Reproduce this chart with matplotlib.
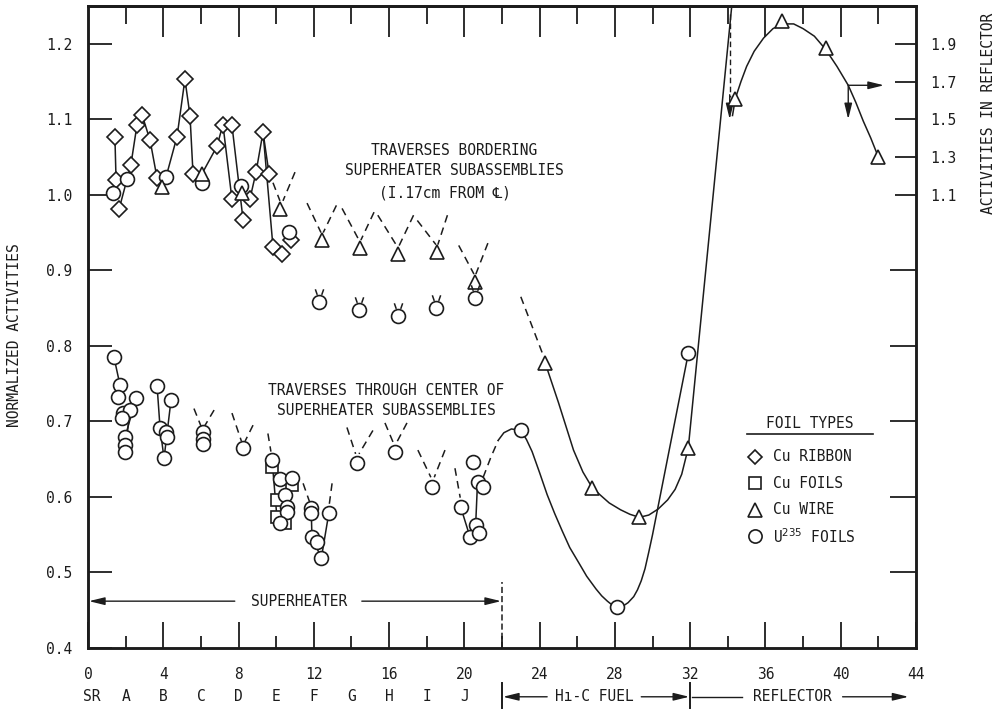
import numpy as np
import matplotlib
matplotlib.use('Agg')
import matplotlib.pyplot as plt
from matplotlib.path import Path

INK = '#1c1c1c'
plt.rcParams['font.family'] = ['DejaVu Sans Mono', 'DejaVu Sans']
plt.rcParams['font.size'] = 10.5
plt.rcParams['text.color'] = INK

# ── data (left axis = normalized activity) ──
# bordering traverses (upper group)
ribbon_x = [1.43, 1.49, 1.65, 2.28, 2.60, 2.87, 3.30, 3.67, 4.73, 5.15, 5.42, 5.58,
            6.85, 7.17, 7.65, 7.65, 8.24, 8.60, 8.93, 9.30, 9.62, 9.83, 10.3, 10.8]
ribbon_y = [1.076, 1.020, 0.981, 1.040, 1.092, 1.106, 1.072, 1.022, 1.077, 1.153, 1.105, 1.028,
            1.064, 1.093, 1.092, 0.994, 0.967, 0.994, 1.030, 1.083, 1.028, 0.931, 0.922, 0.940]
wire_x = [3.93, 6.06, 8.18, 10.2, 12.43, 14.45, 16.47, 18.54, 20.56, 24.3, 26.8, 29.3, 31.9]
wire_y = [1.010, 1.028, 1.002, 0.981, 0.940, 0.930, 0.922, 0.924, 0.884, 0.777, 0.612, 0.573, 0.665]
u235_up_x = [1.33, 2.07, 4.14, 6.06, 8.13, 10.7]
u235_up_y = [1.002, 1.021, 1.023, 1.015, 1.012, 0.951]
u235_horn_x = [12.27, 14.40, 16.47, 18.50, 20.56]
u235_horn_y = [0.858, 0.848, 0.840, 0.850, 0.864]

# center traverses (lower group) + fuel region
u235_x = [1.38, 1.70, 1.59, 2.55, 1.86, 2.23, 1.80, 1.97, 1.97, 1.97,
          3.67, 4.41, 3.83, 4.14, 4.20, 4.04,
          6.10, 6.10, 6.10, 8.24,
          9.78, 10.2, 10.84, 10.47, 10.6, 10.6, 10.2,
          11.86, 11.86, 12.8, 11.9, 12.15, 12.4,
          14.3, 16.3, 18.3,
          19.8, 20.46, 20.7, 21.0, 20.6, 20.3, 20.8,
          23.0, 28.1, 31.9]
u235_y = [0.785, 0.748, 0.732, 0.731, 0.711, 0.715, 0.704, 0.679, 0.669, 0.659,
          0.747, 0.728, 0.691, 0.686, 0.679, 0.651,
          0.686, 0.677, 0.670, 0.665,
          0.649, 0.624, 0.625, 0.602, 0.587, 0.580, 0.565,
          0.585, 0.579, 0.579, 0.547, 0.540, 0.519,
          0.645, 0.660, 0.613,
          0.587, 0.646, 0.620, 0.613, 0.563, 0.547, 0.552,
          0.688, 0.454, 0.790]
foil_x = [9.78, 10.84, 10.04, 10.04, 10.47]
foil_y = [0.640, 0.616, 0.596, 0.573, 0.565]

# solid connecting lines within subassemblies
links = [
    [(1.43, 1.076), (1.49, 1.020)],
    [(1.65, 0.981), (2.28, 1.040), (2.60, 1.092), (2.87, 1.106), (3.30, 1.072), (3.67, 1.022), (3.93, 1.010)],
    [(4.14, 1.023), (4.73, 1.077), (5.15, 1.153), (5.42, 1.105), (5.58, 1.028)],
    [(6.06, 1.028), (6.85, 1.064), (7.17, 1.093), (7.65, 0.994)],
    [(7.65, 1.092), (8.24, 0.967)],
    [(8.60, 0.994), (8.93, 1.030), (9.30, 1.083), (9.62, 1.028)],
    [(9.30, 1.083), (9.83, 0.931)],
    [(1.38, 0.785), (1.70, 0.748)],
    [(2.55, 0.731), (1.97, 0.679)],
    [(2.23, 0.715), (1.97, 0.659)],
    [(3.67, 0.747), (3.83, 0.691), (4.04, 0.651)],
    [(4.41, 0.728), (4.04, 0.651)],
    [(9.78, 0.649), (10.04, 0.573)],
    [(10.84, 0.625), (10.47, 0.565)],
    [(11.86, 0.585), (11.9, 0.547), (12.4, 0.519)],
    [(12.8, 0.579), (12.4, 0.519)],
    [(19.8, 0.587), (20.3, 0.547)],
    [(20.7, 0.620), (20.6, 0.563)],
]

# dashed "V" guide strokes
dashes = [
    [(9.83, 1.016), (10.20, 0.992)], [(11.0, 1.030), (10.36, 0.992)],
    [(11.64, 0.989), (12.38, 0.950)], [(13.2, 0.986), (12.50, 0.950)],
    [(13.5, 0.982), (14.40, 0.940)], [(15.2, 0.977), (14.50, 0.940)],
    [(15.4, 0.973), (16.42, 0.932)], [(17.3, 0.973), (16.52, 0.932)],
    [(17.5, 0.966), (18.49, 0.934)], [(19.1, 0.973), (18.59, 0.934)],
    [(19.7, 0.933), (20.51, 0.895)], [(21.25, 0.936), (20.61, 0.895)],
    [(5.63, 0.717), (6.00, 0.694)], [(6.70, 0.715), (6.20, 0.694)],
    [(7.65, 0.711), (8.15, 0.674)], [(8.77, 0.695), (8.35, 0.674)],
    [(9.56, 0.684), (9.72, 0.660)],
    [(11.43, 0.618), (11.78, 0.593)], [(12.97, 0.618), (12.82, 0.590)],
    [(13.76, 0.692), (14.22, 0.657)], [(15.14, 0.688), (14.40, 0.657)],
    [(15.78, 0.698), (16.22, 0.672)], [(16.95, 0.698), (16.40, 0.672)],
    [(17.53, 0.662), (18.22, 0.626)], [(18.97, 0.662), (18.40, 0.626)],
    [(19.5, 0.638), (19.78, 0.599)],
]

# faired curves through the fuel region
wire_dash_x = [23.0, 24.15]
wire_dash_y = [0.865, 0.790]
wire_curve_x = [24.3, 25.0, 25.8, 26.3, 26.8, 27.2, 27.7, 28.3, 28.8, 29.3, 29.8, 30.3,
                30.8, 31.2, 31.55, 31.9, 34.21]
wire_curve_y = [0.777, 0.725, 0.662, 0.633, 0.612, 0.603, 0.592, 0.583, 0.577, 0.573, 0.576,
                0.584, 0.596, 0.610, 0.630, 0.665, 1.25]
u235_dash_x = [21.0, 21.4, 21.8]
u235_dash_y = [0.626, 0.652, 0.675]
u235_curve_x = [21.8, 22.1, 22.5, 23.0, 23.3, 23.6, 24.0, 24.4, 24.8, 25.2, 25.6, 26.1,
                26.5, 27.0, 27.3, 27.6, 27.85, 28.1, 28.4, 28.7, 29.0, 29.2, 29.4,
                29.6, 29.8, 30.0, 31.9]
u235_curve_y = [0.675, 0.685, 0.690, 0.688, 0.676, 0.660, 0.632, 0.603, 0.578, 0.555, 0.533, 0.512,
                0.495, 0.478, 0.469, 0.462, 0.457, 0.454, 0.455, 0.460, 0.468, 0.477, 0.489,
                0.505, 0.527, 0.550, 0.790]

# reflector (right axis)
refl_x = [34.4, 36.9, 39.2, 42.0]
refl_y = [1.61, 2.02, 1.88, 1.30]
refl_curve_x = [34.25, 34.4, 34.7, 35.0, 35.4, 35.9, 36.4, 36.9, 37.5, 38.0, 38.6, 39.2,
                39.8, 40.4, 40.8, 41.2, 41.6, 42.0]
refl_curve_y = [1.52, 1.61, 1.70, 1.78, 1.86, 1.93, 1.98, 2.005, 2.005, 1.98, 1.94, 1.87,
                1.78, 1.68, 1.59, 1.49, 1.40, 1.30]

# right scale: right = R_GAIN * left + R_OFF
R_GAIN, R_OFF = 4.0, -2.9

x_ticks = list(range(0, 45, 4))
y_ticks = [0.4, 0.5, 0.6, 0.7, 0.8, 0.9, 1.0, 1.1, 1.2]
r_ticks = [1.1, 1.3, 1.5, 1.7, 1.9]
sub_labels = ['SR', 'A', 'B', 'C', 'D', 'E', 'F', 'G', 'H', 'I', 'J']
sub_pos = [0.2, 2, 4, 6, 8, 10, 12, 14, 16, 18, 20]

legend_labels = ['Cu RIBBON', 'Cu FOILS', 'Cu WIRE', r'U$^{235}$ FOILS']
legend_markers = ['D', 's', '^', 'o']
legend_sizes = [8, 9, 10, 10]

# ── figure ──
fig = plt.figure(figsize=(9.99, 7.12), dpi=100)
ax = fig.add_axes([0.0881, 0.0899, 0.8288, 0.9017])
ax.set_xlim(0, 44)
ax.set_ylim(0.4, 1.25)

LW = 1.1
mk = dict(linestyle='none', mfc='white', mec=INK, mew=1.2, zorder=4)

for seg in links:
    xs, ys = zip(*seg)
    ax.plot(xs, ys, color=INK, lw=LW, zorder=2)
for seg in dashes:
    xs, ys = zip(*seg)
    ax.plot(xs, ys, color=INK, lw=LW, ls=(0, (5, 3.5)), zorder=2)

ax.plot(wire_dash_x, wire_dash_y, color=INK, lw=LW, ls=(0, (5, 3.5)), zorder=2)
ax.plot(wire_curve_x, wire_curve_y, color=INK, lw=LW, zorder=2)
ax.plot(u235_dash_x, u235_dash_y, color=INK, lw=LW, ls=(0, (5, 3.5)), zorder=2)
ax.plot(u235_curve_x, u235_curve_y, color=INK, lw=LW, zorder=2)

ax.plot(ribbon_x, ribbon_y, marker='D', ms=8, **mk)
ax.plot(foil_x, foil_y, marker='s', ms=9, **mk)
ax.plot(u235_x, u235_y, marker='o', ms=10, **mk)
ax.plot(u235_up_x, u235_up_y, marker='o', ms=10, **mk)
ax.plot(wire_x, wire_y, marker='^', ms=10, **mk)

# little horns sitting on the circles of the bordering row
horn = Path([(-0.30, 0.95), (-0.16, 0.55), (0.30, 0.95), (0.16, 0.55)],
            [Path.MOVETO, Path.LINETO, Path.MOVETO, Path.LINETO])
ax.plot(u235_horn_x, u235_horn_y, marker='o', ms=10, **mk)
ax.plot(u235_horn_x, u235_horn_y, linestyle='none', marker=horn, ms=19,
        mec=INK, mew=1.1, zorder=4)

# superheater span
ax.plot([22, 22], [0.4, 0.487], color=INK, lw=1.1, ls=(0, (4, 2)))
ahead = '-|>,head_length=0.9,head_width=0.22'
for x0, x1 in [(7.8, 0.05), (14.55, 21.95)]:
    ax.annotate('', xy=(x1, 0.462), xytext=(x0, 0.462),
                arrowprops=dict(arrowstyle=ahead, color=INK, lw=1.0, shrinkA=0, shrinkB=0))
ax.text(11.2, 0.462, 'SUPERHEATER', ha='center', va='center')

# annotations
ax.text(19.45, 1.059, 'TRAVERSES BORDERING', ha='center', va='center')
ax.text(19.45, 1.032, 'SUPERHEATER SUBASSEMBLIES', ha='center', va='center')
ax.text(18.97, 1.003, '(I.17cm FROM \u2104)', ha='center', va='center')
ax.text(15.83, 0.741, 'TRAVERSES THROUGH CENTER OF', ha='center', va='center')
ax.text(15.83, 0.715, 'SUPERHEATER SUBASSEMBLIES', ha='center', va='center')

# axes styling
for sp in ax.spines.values():
    sp.set_linewidth(1.8)
    sp.set_color(INK)
ax.set_xticks(x_ticks)
ax.set_xticklabels([str(v) for v in x_ticks])
ax.set_xticks(list(range(2, 44, 4)), minor=True)
ax.tick_params(axis='x', which='major', direction='in', length=18.5, width=1.3,
               pad=14, top=False, colors=INK)
ax.tick_params(axis='x', which='minor', direction='in', length=8.5, width=1.3, top=False,
               colors=INK)
ax.set_yticks(y_ticks)
ax.set_yticklabels(['%.1f' % v for v in y_ticks])
ax.tick_params(axis='y', direction='in', length=17, width=1.3, pad=11, right=False,
               colors=INK)

top = ax.secondary_xaxis('top')
top.set_xticks(list(range(4, 44, 4)))
top.set_xticks(list(range(2, 44, 4)), minor=True)
top.tick_params(axis='x', which='major', direction='in', length=22, width=1.3,
                labeltop=False, colors=INK)
top.tick_params(axis='x', which='minor', direction='in', length=13, width=1.3,
                labeltop=False, colors=INK)
top.spines['top'].set_linewidth(1.8)

ax2 = ax.twinx()
ax2.set_ylim(R_GAIN * 0.4 + R_OFF, R_GAIN * 1.25 + R_OFF)
ax2.set_yticks(r_ticks)
ax2.set_yticklabels(['%.1f' % v for v in r_ticks])
ax2.set_yticks([R_GAIN * v + R_OFF for v in [0.5, 0.6, 0.7, 0.8, 0.9]], minor=True)
ax2.tick_params(axis='y', which='major', direction='in', length=15, width=1.3, pad=10,
                colors=INK)
ax2.tick_params(axis='y', which='minor', direction='in', length=18.5, width=1.3,
                colors=INK)
for sp in ax2.spines.values():
    sp.set_linewidth(1.8)
    sp.set_color(INK)

ax2.plot(refl_curve_x, refl_curve_y, color=INK, lw=LW, zorder=2)
ax2.plot(refl_x, refl_y, marker='^', ms=10, **mk)
ax2.plot([34.1, 34.1], [2.06, 1.62], color=INK, lw=1.0, ls=(0, (4, 2.5)))
ax2.annotate('', xy=(34.1, 1.50), xytext=(34.1, 1.63),
             arrowprops=dict(arrowstyle=ahead, color=INK, lw=1.0, shrinkA=0, shrinkB=0))
ax2.annotate('', xy=(42.3, 1.68), xytext=(40.4, 1.68),
             arrowprops=dict(arrowstyle=ahead, color=INK, lw=1.0, shrinkA=0, shrinkB=0))
ax2.annotate('', xy=(40.4, 1.50), xytext=(40.4, 1.68),
             arrowprops=dict(arrowstyle=ahead, color=INK, lw=1.0, shrinkA=0, shrinkB=0))

# sub-assembly letters and region spans under the axis
xt = ax.get_xaxis_transform()
for lab, xp in zip(sub_labels, sub_pos):
    ax.text(xp, -0.076, lab, transform=xt, ha='center', va='center')
for xb in [22, 32]:
    ax.plot([xb, xb], [-0.054, -0.094], transform=xt, color=INK, lw=1.4, clip_on=False)
yb = -0.076
for x0, x1 in [(24.4, 22.05), (29.4, 31.95), (40.1, 43.6)]:
    ax.annotate('', xy=(x1, yb), xytext=(x0, yb), xycoords=xt, textcoords=xt,
                arrowprops=dict(arrowstyle=ahead, color=INK, lw=1.0, shrinkA=0, shrinkB=0))
ax.plot([32.1, 34.75], [yb, yb], transform=xt, color=INK, lw=1.0, clip_on=False)
ax.text(26.9, yb, 'H\u0131-C FUEL', transform=xt, ha='center', va='center')
ax.text(37.45, yb, 'REFLECTOR', transform=xt, ha='center', va='center')

# legend
at = ax.transAxes
ax.text(0.872, 0.350, 'FOIL TYPES', transform=at, ha='center', va='center')
ax.plot([0.796, 0.948], [0.333, 0.333], transform=at, color=INK, lw=1.2)
for i, (lab, m, s) in enumerate(zip(legend_labels, legend_markers, legend_sizes)):
    yy = 0.2975 - i * 0.0412
    ax.plot([0.806], [yy], transform=at, marker=m, ms=s * 0.95, linestyle='none',
            mfc='white', mec=INK, mew=1.2)
    ax.text(0.827, yy, lab, transform=at, ha='left', va='center')

fig.text(0.015, 0.53, 'NORMALIZED ACTIVITIES', rotation=90, ha='center', va='center')
fig.text(0.989, 0.841, 'ACTIVITIES IN REFLECTOR', rotation=90, ha='center', va='center')

fig.savefig('out.png', dpi=100)
